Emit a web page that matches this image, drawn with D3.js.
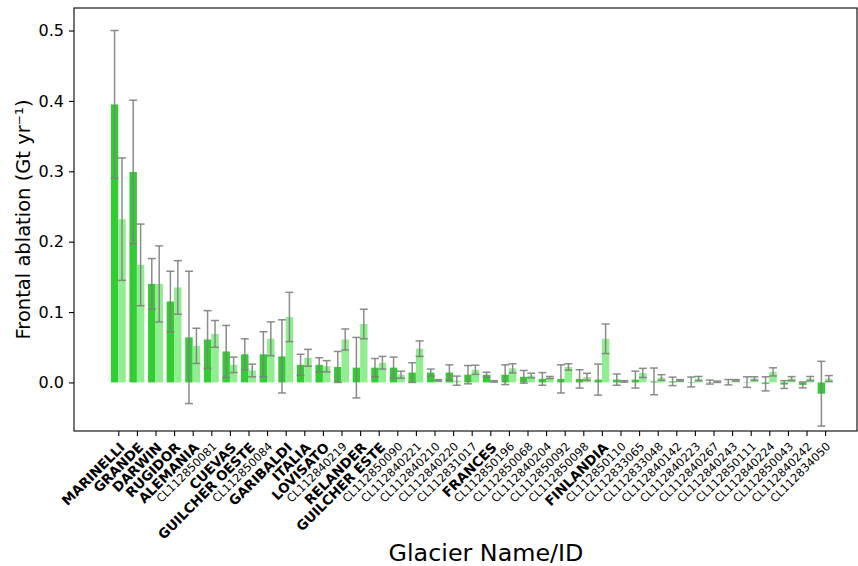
<!DOCTYPE html>
<html>
<head>
<meta charset="utf-8">
<script src="https://cdn.jsdelivr.net/npm/d3@7"></script>
<style>
  html, body { margin: 0; padding: 0; background: #fff; }
  svg { display: block; font-family: "DejaVu Sans", sans-serif; }
</style>
</head>
<body>
<svg id="chart" width="858" height="566"></svg>
<script>
// Glaciers, ordered by frontal ablation
const glaciers = [
  "MARINELLI", "GRANDE", "DARWIN", "RUGIDOR", "ALEMANIA", "CL112850081", "CUEVAS",
  "GUILCHER OESTE", "CL112850084", "GARIBALDI", "ITALIA", "LOVISATO", "CL112840219",
  "RELANDER", "GUILCHER ESTE", "CL112850090", "CL112840221", "CL112840210", "CL112840220",
  "CL112831017", "FRANCES", "CL112850196", "CL112850068", "CL112840204", "CL112850092",
  "CL112850098", "FINLANDIA", "CL112850110", "CL112833065", "CL112833048", "CL112840142",
  "CL112840223", "CL112840267", "CL112840243", "CL112850111", "CL112840224", "CL112850043",
  "CL112840242", "CL112834050"
];

// First estimate (dark bars) and its uncertainty, Gt/yr
const ablationA = [
  0.395, 0.299, 0.140, 0.115, 0.064, 0.061, 0.044, 0.040, 0.040, 0.037,
  0.025, 0.025, 0.022, 0.021, 0.021, 0.021, 0.014, 0.014, 0.014, 0.011,
  0.011, 0.011, 0.008, 0.005, 0.005, 0.005, 0.004, 0.004, 0.004, 0.0015,
  0.0015, 0.0007, 0.0005, 0.0003, 0.0005, -0.002, -0.003, -0.0035, -0.016
];
const errorA = [
  0.105, 0.102, 0.036, 0.043, 0.094, 0.041, 0.037, 0.022, 0.032, 0.052,
  0.015, 0.010, 0.022, 0.043, 0.013, 0.015, 0.014, 0.005, 0.011, 0.013,
  0.0035, 0.014, 0.009, 0.009, 0.020, 0.013, 0.022, 0.008, 0.012, 0.019,
  0.006, 0.007, 0.0028, 0.0038, 0.0075, 0.010, 0.0055, 0.0042, 0.046
];

// Second estimate (light bars) and its uncertainty, Gt/yr
const ablationB = [
  0.232, 0.167, 0.140, 0.135, 0.052, 0.069, 0.025, 0.017, 0.062, 0.093,
  0.035, 0.023, 0.061, 0.083, 0.028, 0.011, 0.048, 0.003, 0.0025, 0.018,
  0.0015, 0.020, 0.0098, 0.007, 0.022, 0.008, 0.062, 0.0015, 0.0135, 0.007,
  0.003, 0.0055, 0.001, 0.003, 0.0055, 0.015, 0.0055, 0.0055, 0.0055
];
const errorB = [
  0.087, 0.058, 0.054, 0.038, 0.025, 0.019, 0.011, 0.009, 0.024, 0.035,
  0.012, 0.008, 0.015, 0.021, 0.009, 0.005, 0.011, 0.001, 0.0065, 0.0065,
  0.001, 0.0065, 0.0033, 0.0015, 0.0045, 0.005, 0.021, 0.001, 0.0065, 0.004,
  0.001, 0.003, 0.001, 0.001, 0.0025, 0.0058, 0.0028, 0.003, 0.0042
];

const yTicks = [0.0, 0.1, 0.2, 0.3, 0.4, 0.5];

const colorA = "#32cd32";
const colorB = "#90ee90";
const errColor = "#808080";

const plot = { left: 74, top: 8, right: 857, bottom: 431 };
const svg = d3.select("#chart");

const x = d3.scalePoint()
  .domain(glaciers)
  .range([118.3, 825.1]);
const step = x.step();
const barW = step * 0.4;

const y = d3.scaleLinear()
  .domain([-0.069, 0.532])
  .range([plot.bottom, plot.top]);

const rows = glaciers.map((g, i) => ({
  name: g, a: ablationA[i], ea: errorA[i], b: ablationB[i], eb: errorB[i],
  named: !g.startsWith("CL")
}));

// bars
const gBars = svg.append("g");
gBars.selectAll("rect.a").data(rows).join("rect")
  .attr("x", d => x(d.name) - barW)
  .attr("width", barW)
  .attr("y", d => y(Math.max(0, d.a)))
  .attr("height", d => Math.abs(y(d.a) - y(0)))
  .attr("fill", colorA);
gBars.selectAll("rect.b").data(rows).join("rect")
  .attr("x", d => x(d.name))
  .attr("width", barW)
  .attr("y", d => y(Math.max(0, d.b)))
  .attr("height", d => Math.abs(y(d.b) - y(0)))
  .attr("fill", colorB);

// error bars with caps
function errorBars(cx, val, err) {
  const g = svg.append("g")
    .attr("stroke", errColor).attr("stroke-width", 1.5).attr("stroke-opacity", 0.9);
  const cap = 4;
  g.selectAll("line.v").data(rows).join("line")
    .attr("x1", cx).attr("x2", cx)
    .attr("y1", d => y(val(d) + err(d))).attr("y2", d => y(val(d) - err(d)));
  g.selectAll("line.t").data(rows).join("line")
    .attr("x1", d => cx(d) - cap).attr("x2", d => cx(d) + cap)
    .attr("y1", d => y(val(d) + err(d))).attr("y2", d => y(val(d) + err(d)));
  g.selectAll("line.bt").data(rows).join("line")
    .attr("x1", d => cx(d) - cap).attr("x2", d => cx(d) + cap)
    .attr("y1", d => y(val(d) - err(d))).attr("y2", d => y(val(d) - err(d)));
}
errorBars(d => x(d.name) - barW / 2, d => d.a, d => d.ea);
errorBars(d => x(d.name) + barW / 2, d => d.b, d => d.eb);

// y axis
const yAxis = svg.append("g")
  .attr("transform", `translate(${plot.left},0)`)
  .call(d3.axisLeft(y).tickValues(yTicks).tickFormat(d3.format(".1f")).tickSize(5).tickPadding(5));
yAxis.select(".domain").remove();
yAxis.selectAll("line").attr("stroke", "#000").attr("stroke-width", 1.1);
yAxis.selectAll("text").attr("font-size", 16).attr("fill", "#000")
  .attr("font-family", "DejaVu Sans");

// x axis
const xAxis = svg.append("g")
  .attr("transform", `translate(0,${plot.bottom})`)
  .call(d3.axisBottom(x).tickSize(5).tickFormat(""));
xAxis.select(".domain").remove();
xAxis.selectAll("line").attr("stroke", "#000").attr("stroke-width", 1.1);

svg.append("g").selectAll("text").data(rows).join("text")
  .attr("transform", d => `translate(${x(d.name)},${plot.bottom + 10}) rotate(-45)`)
  .attr("text-anchor", "end")
  .attr("dy", "0.76em")
  .attr("font-size", d => d.named ? 13.5 : 11.4)
  .attr("font-weight", d => d.named ? "bold" : "normal")
  .attr("fill", "#000")
  .text(d => d.name);

// frame
svg.append("rect")
  .attr("x", plot.left).attr("y", plot.top)
  .attr("width", plot.right - plot.left).attr("height", plot.bottom - plot.top)
  .attr("fill", "none").attr("stroke", "#000").attr("stroke-width", 1.1);

// axis titles
svg.append("text")
  .attr("transform", `translate(30,${(plot.top + plot.bottom) / 2}) rotate(-90)`)
  .attr("text-anchor", "middle")
  .attr("font-size", 19.5)
  .attr("fill", "#000")
  .text("Frontal ablation (Gt yr⁻¹)");

svg.append("text")
  .attr("x", 486).attr("y", 561)
  .attr("text-anchor", "middle")
  .attr("font-size", 23.8)
  .attr("fill", "#000")
  .text("Glacier Name/ID");
</script>
</body>
</html>
